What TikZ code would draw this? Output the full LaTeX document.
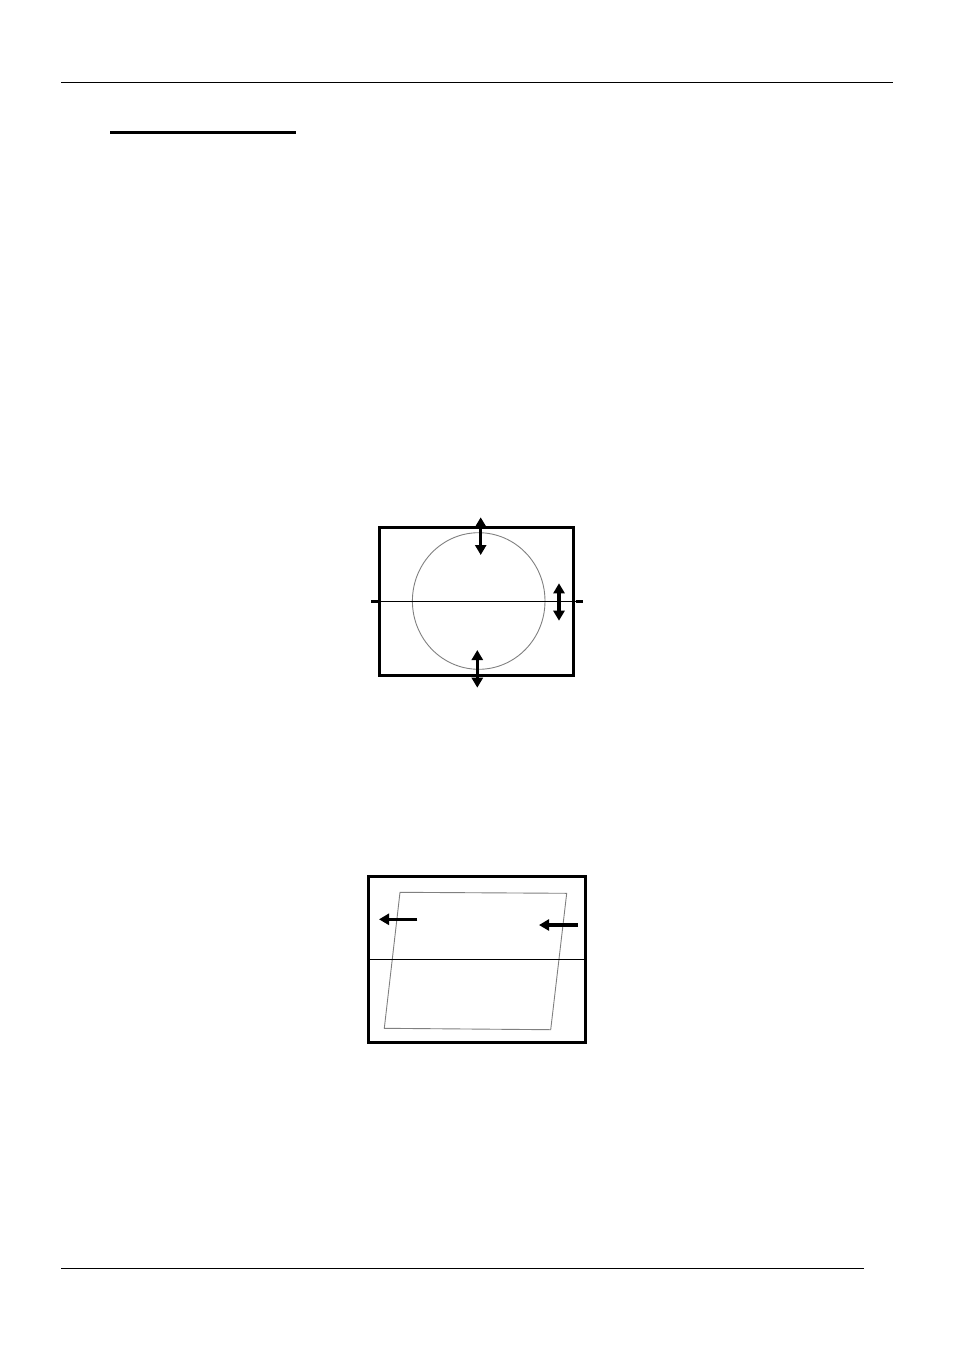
\documentclass[tikz,border=0pt]{standalone}
\usetikzlibrary{arrows.meta}
\begin{document}
\begin{tikzpicture}[x=1pt,y=-1pt,
  frame/.style={line width=3.2pt},
  thin/.style={line width=1.3pt},
  faint/.style={line width=0.9pt,draw=black!50},
  dbl/.style={line width=3.2pt,{Triangle[width=11pt,length=10pt]}-{Triangle[width=11pt,length=10pt]}},
  sgl/.style={line width=3.2pt,-{Triangle[width=11pt,length=10pt]}}]
\useasboundingbox (0,0) rectangle (954,1351);
% header / footer rules
\draw[line width=1.3pt] (61,82.3) -- (892.7,82.3);
\draw[line width=2.4pt] (110,132.7) -- (296,132.7);
\draw[line width=1.3pt] (61,1268.3) -- (864,1268.3);
% diagram 1
\draw[faint] (478.7,601) ellipse [x radius=66.3, y radius=68.3];
\draw[frame] (379.5,527.7) rectangle (573.7,675.7);
\draw[thin] (371.7,601.7) -- (582.7,601.7);
\draw[line width=2.6pt] (371.2,601.7) -- (378,601.7);
\draw[line width=2.6pt] (575.5,601.7) -- (582.7,601.7);
\draw[dbl] (480.7,517.3) -- (480.7,555);
\draw[dbl] (477.3,650) -- (477.3,687.7);
\draw[dbl] (559,583.3) -- (559,620.7);
% diagram 2
\draw[faint] (400,892.3) -- (566.7,893.3) -- (550.7,1029.7) -- (384.3,1028.3) -- cycle;
\draw[frame] (368.5,876.7) rectangle (585.8,1042.7);
\draw[thin] (368.5,959.7) -- (585.8,959.7);
\draw[sgl] (417.3,919.3) -- (379,919.3);
\draw[sgl] (577.7,925) -- (539,925);
\end{tikzpicture}
\end{document}
